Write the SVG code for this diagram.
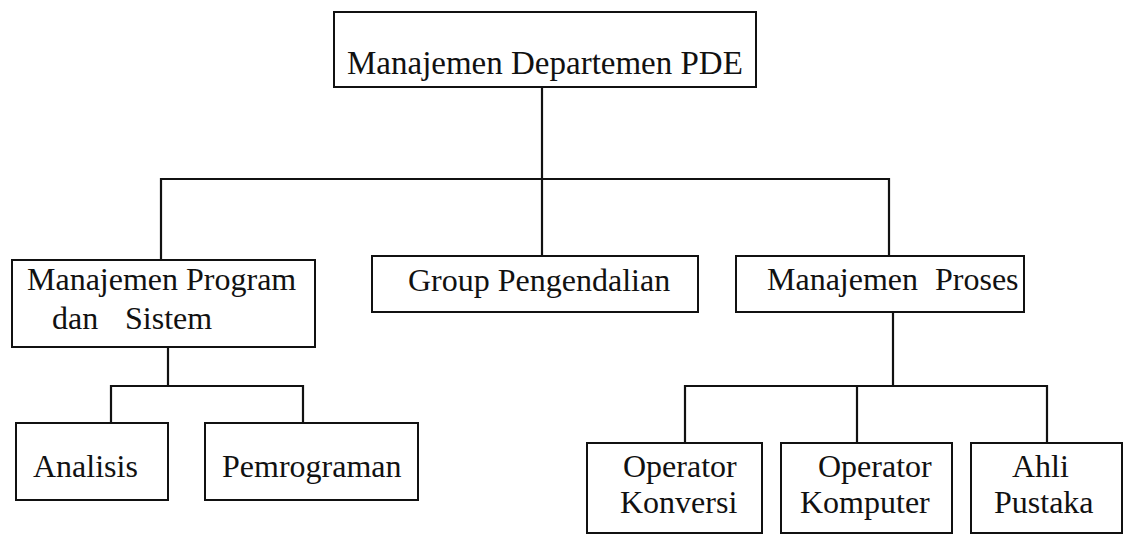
<svg xmlns="http://www.w3.org/2000/svg" width="1135" height="536" viewBox="0 0 1135 536">
  <style>
    .box { fill: #ffffff; stroke: #111111; stroke-width: 2; }
    .wire { fill: none; stroke: #111111; stroke-width: 2.2; }
    .label { font-family: "Liberation Serif", "Times New Roman", serif; font-size: 32px; fill: #111111; }
    .title { font-size: 33px; }
  </style>
  <rect width="1135" height="536" fill="#ffffff"/>

  <!-- connectors -->
  <g id="connectors">
    <path class="wire" d="M542 87 V179"/>
    <path class="wire" d="M161 260 V179 H889 V256"/>
    <path class="wire" d="M542 179 V256"/>
    <path class="wire" d="M168 347 V386"/>
    <path class="wire" d="M111 423 V386 H303 V423"/>
    <path class="wire" d="M893 312 V386"/>
    <path class="wire" d="M685 443 V386 H1047 V443"/>
    <path class="wire" d="M857 386 V443"/>
  </g>

  <!-- top level -->
  <g id="node-pde">
    <rect class="box" x="334" y="12" width="422" height="75"/>
    <text class="label title" x="347" y="74">Manajemen Departemen PDE</text>
  </g>

  <!-- second level -->
  <g id="node-program-sistem">
    <rect class="box" x="12" y="260" width="303" height="87"/>
    <text class="label" x="27" y="290">Manajemen Program</text>
    <text class="label" y="329"><tspan x="52">dan</tspan><tspan x="125">Sistem</tspan></text>
  </g>
  <g id="node-group-pengendalian">
    <rect class="box" x="372" y="256" width="326" height="56"/>
    <text class="label" x="408" y="291">Group Pengendalian</text>
  </g>
  <g id="node-proses">
    <rect class="box" x="736" y="256" width="288" height="56"/>
    <text class="label" y="290"><tspan x="767">Manajemen</tspan><tspan x="935">Proses</tspan></text>
  </g>

  <!-- third level, program side -->
  <g id="node-analisis">
    <rect class="box" x="16" y="423" width="152" height="77"/>
    <text class="label" x="33" y="477">Analisis</text>
  </g>
  <g id="node-pemrograman">
    <rect class="box" x="205" y="423" width="213" height="77"/>
    <text class="label" x="222" y="477">Pemrograman</text>
  </g>

  <!-- third level, process side -->
  <g id="node-operator-konversi">
    <rect class="box" x="587" y="443" width="175" height="90"/>
    <text class="label" x="623" y="477">Operator</text>
    <text class="label" x="620" y="513">Konversi</text>
  </g>
  <g id="node-operator-komputer">
    <rect class="box" x="781" y="443" width="171" height="90"/>
    <text class="label" x="818" y="477">Operator</text>
    <text class="label" x="800" y="513">Komputer</text>
  </g>
  <g id="node-ahli-pustaka">
    <rect class="box" x="971" y="443" width="151" height="90"/>
    <text class="label" x="1012" y="477">Ahli</text>
    <text class="label" x="994" y="513">Pustaka</text>
  </g>
</svg>
